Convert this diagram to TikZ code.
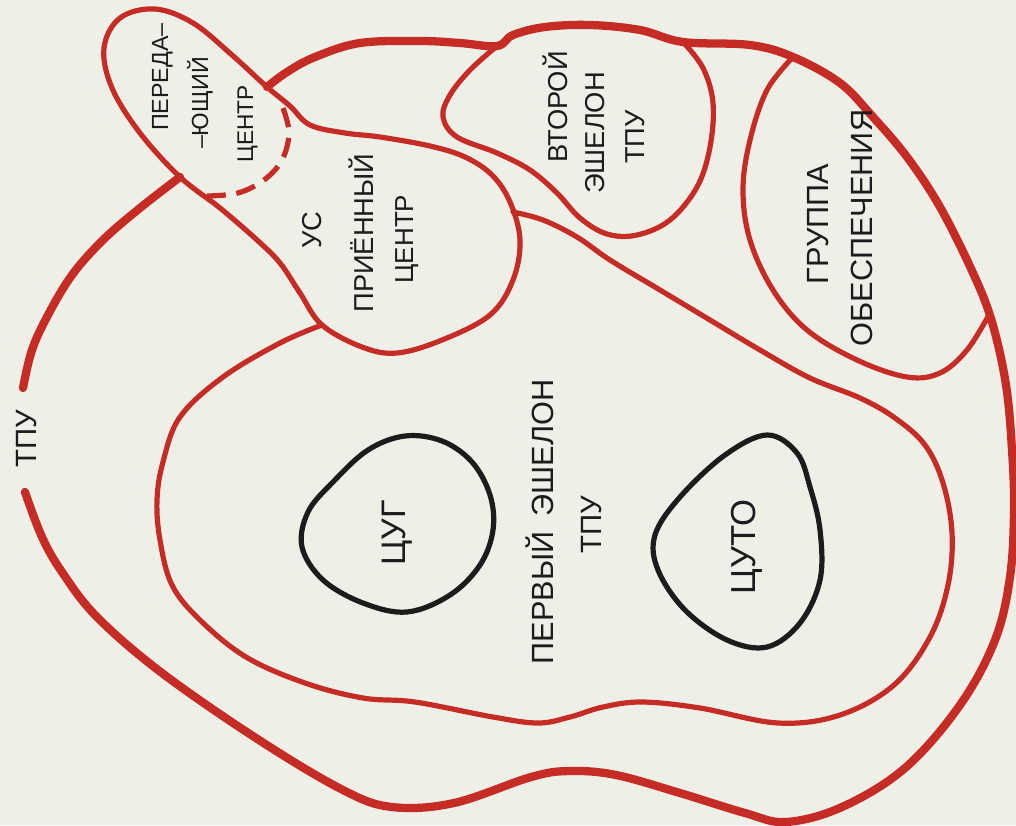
\documentclass[tikz,border=0pt]{standalone}
\usepackage{fontspec}
\setmainfont{Liberation Sans}
\definecolor{ink}{RGB}{198,44,38}
\definecolor{paper}{RGB}{238,240,231}
\definecolor{txt}{RGB}{28,28,28}
\newcommand{\fsz}[1]{\fontsize{#1}{#1}\selectfont}
\tikzset{
  thickline/.style={draw=ink,line width=6.2pt,line cap=round,line join=round},
  thinline/.style={draw=ink,line width=3.9pt,line cap=round,line join=round},
  dashline/.style={draw=ink,line width=3.9pt,line cap=butt,dash pattern=on 15pt off 8pt},
  blackline/.style={draw=txt,line width=3.9pt,line join=round},
  lbl/.style={rotate=90,anchor=base,inner sep=0pt,text=txt,font=\fsz{#1}}
}
\begin{document}
\begin{tikzpicture}[x=0.75pt,y=-0.75pt]
\useasboundingbox (0,0) rectangle (1016,825);
\fill[paper] (0,0) rectangle (1016,825);

% outer TPU boundary (thick)
\draw[thickline] plot[smooth,tension=0.6] coordinates {(180,177) (140,208) (103,240) (72,275) (48,315) (32,350) (23,388)};
\draw[thickline] plot[smooth,tension=0.6] coordinates {(25,492) (42,537) (62,572) (97,617) (162,673) (259,740) (343,790) (392,807) (454,803) (531,777) (570,771) (616,775) (680,793) (745,813) (786,822) (842,807) (905,768) (960,705) (995,640) (1010,577) (1014,510) (1012,450) (1006,385) (992,322) (973,273) (940,207) (907,157) (873,117) (840,83) (793,57) (750,45) (683,42) (640,30) (590,25) (545,27) (513,35) (497,46) (460,43) (420,41) (360,43) (315,57) (287,72) (267,87)};

% transmitting centre lobe + US (thin)
\draw[thinline] plot[smooth cycle,tension=0.6] coordinates {(180,177) (140,133) (112,88) (104,48) (120,18) (155,9) (193,23) (232,55) (267,87) (290,106) (310,125) (345,133) (380,137) (430,146) (465,157) (492,175) (510,202) (520,240) (513,280) (490,315) (442,340) (397,353) (362,347) (322,325) (300,293) (280,263) (257,240) (220,208)};
\draw[dashline] plot[smooth,tension=0.6] coordinates {(283,108) (289,133) (282,160) (264,180) (238,193) (207,196)};

% first echelon
\draw[thinline] plot[smooth,tension=0.6] coordinates {(513,212) (543,220) (577,237) (610,260) (660,290) (710,320) (760,350) (810,378) (860,398) (895,418) (925,445) (943,483) (952,533) (948,585) (930,637) (894,685) (840,715) (778,723) (700,708) (642,702) (603,707) (570,717) (538,723) (493,717) (415,702) (363,698) (305,683) (246,657) (200,620) (172,585) (160,540) (157,500) (163,462) (180,417) (223,377) (280,343) (322,325)};

% second echelon
\draw[thinline] plot[smooth,tension=0.6] coordinates {(497,46) (470,70) (450,95) (443,117) (457,137) (497,153) (530,170) (557,193) (580,218) (607,234) (637,235) (670,220) (697,187) (710,147) (713,103) (703,68) (683,42)};

% support group
\draw[thinline] plot[smooth,tension=0.6] coordinates {(793,57) (767,90) (750,140) (743,190) (750,240) (773,290) (807,330) (857,360) (907,377) (940,373) (967,350) (990,313)};

% black centres
\draw[blackline] plot[smooth cycle,tension=0.6] coordinates {(405,436) (442,441) (472,462) (490,495) (493,530) (480,565) (450,595) (407,612) (363,603) (323,580) (302,547) (308,512) (333,482) (368,450)};
\draw[blackline] plot[smooth cycle,tension=0.6] coordinates {(767,435) (797,453) (810,487) (820,530) (820,580) (800,623) (767,647) (727,640) (685,610) (658,570) (655,535) (680,497) (725,455)};

% labels
\node[lbl=22] (tpuleft) at (36.5,439) {ТПУ};
\node[lbl=17.5] (tx1) at (168,77) {ПЕРЕДА–};
\node[lbl=17.5] (tx2) at (208,103) {–ЮЩИЙ};
\node[lbl=17] (tx3) at (253,124) {ЦЕНТР};
\node[lbl=20.5] (us1) at (321,230) {УС};
\node[lbl=20.5] (us2) at (373,233) {ПРИЁННЫЙ};
\node[lbl=19.5] (us3) at (413,239) {ЦЕНТР};
\node[lbl=20.5] (se1) at (567,107) {ВТОРОЙ};
\node[lbl=20.5] (se2) at (604,133) {ЭШЕЛОН};
\node[lbl=20.5] (se3) at (644,137) {ТПУ};
\node[lbl=23] (gr1) at (828,224) {ГРУППА};
\node[lbl=23] (gr2) at (872,228) {ОБЕСПЕЧЕНИЯ};
\node[lbl=23] (fe1) at (553,522) {ПЕРВЫЙ\hspace{0.5em}ЭШЕЛОН};
\node[lbl=22] (fe2) at (601.5,525) {ТПУ};
\node[lbl=25.5] (cug) at (405,533) {ЦУГ};
\node[lbl=26] (cuto) at (755,547) {ЦУТО};
\end{tikzpicture}
\end{document}
